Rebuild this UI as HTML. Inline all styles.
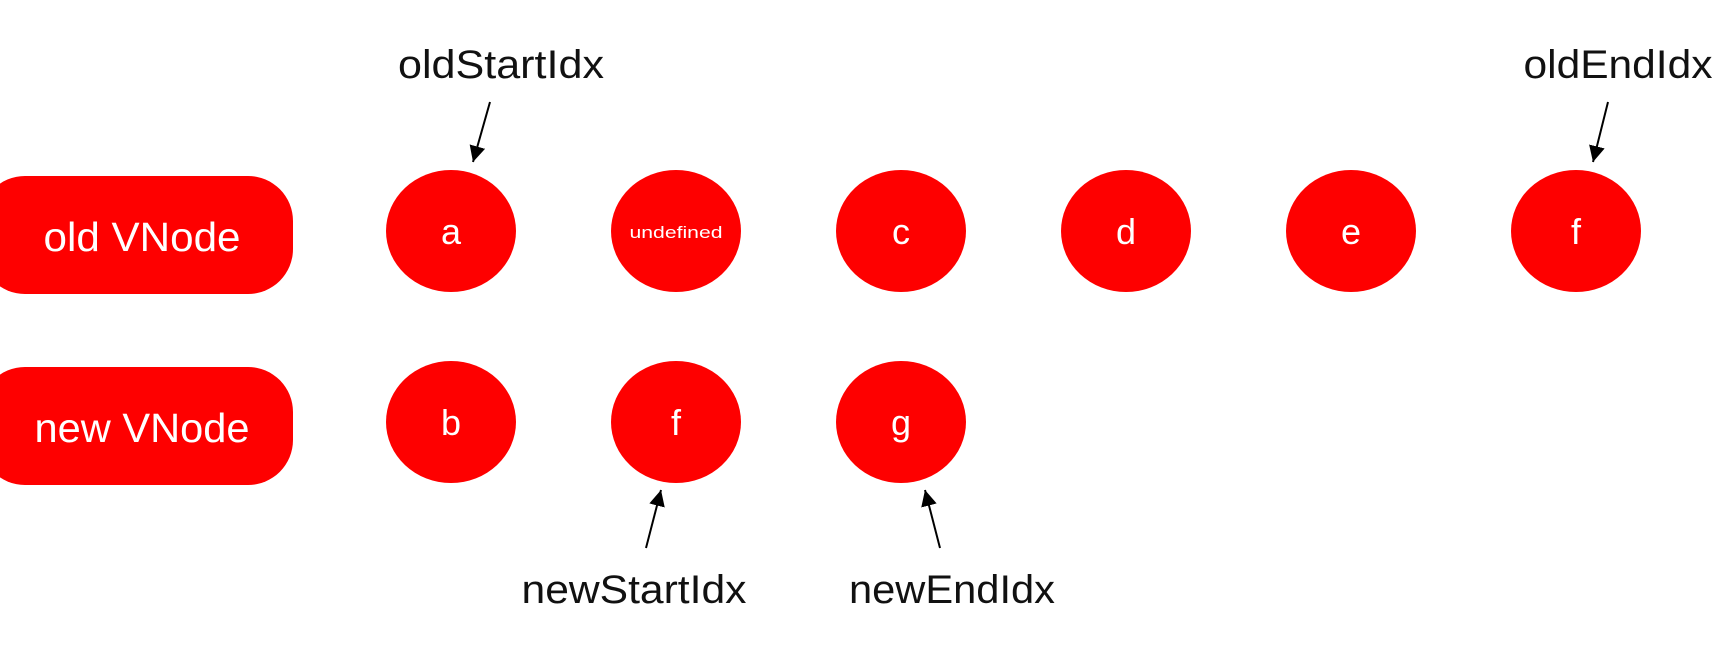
<!DOCTYPE html>
<html><head><meta charset="utf-8"><style>
html,body{margin:0;padding:0;background:#fff;}
svg{display:block;}
text{font-family:"Liberation Sans",Arial,sans-serif;}
</style></head><body>
<svg width="1720" height="646" viewBox="0 0 1720 646" xmlns="http://www.w3.org/2000/svg">
<defs>
<marker id="a2" viewBox="0 0 10 10" markerWidth="16" markerHeight="16" refX="10" refY="5" orient="auto" markerUnits="userSpaceOnUse"><path d="M0,0 L10,5 L0,10 z" fill="#000"/></marker></defs>
<rect x="-20" y="176" width="313" height="118" rx="45" ry="45" fill="#fe0000"/>
<rect x="-20" y="367" width="313" height="118" rx="45" ry="45" fill="#fe0000"/>
<text x="142" y="251" font-size="41" fill="#fff" text-anchor="middle" textLength="197" lengthAdjust="spacingAndGlyphs">old VNode</text>
<text x="142" y="442" font-size="41" fill="#fff" text-anchor="middle" textLength="215" lengthAdjust="spacingAndGlyphs">new VNode</text>
<g fill="#fe0000">
<ellipse cx="451" cy="231" rx="65" ry="61"/>
<ellipse cx="676" cy="231" rx="65" ry="61"/>
<ellipse cx="901" cy="231" rx="65" ry="61"/>
<ellipse cx="1126" cy="231" rx="65" ry="61"/>
<ellipse cx="1351" cy="231" rx="65" ry="61"/>
<ellipse cx="1576" cy="231" rx="65" ry="61"/>
<ellipse cx="451" cy="422" rx="65" ry="61"/>
<ellipse cx="676" cy="422" rx="65" ry="61"/>
<ellipse cx="901" cy="422" rx="65" ry="61"/>
</g>
<g fill="#fff" font-size="36" text-anchor="middle">
<text x="451" y="244">a</text>
<text x="676" y="238" font-size="17" textLength="93" lengthAdjust="spacingAndGlyphs">undefined</text>
<text x="901" y="244">c</text>
<text x="1126" y="244">d</text>
<text x="1351" y="244">e</text>
<text x="1576" y="244">f</text>
<text x="451" y="435">b</text>
<text x="676" y="435">f</text>
<text x="901" y="435">g</text>
</g>
<g font-size="40" fill="#111" text-anchor="middle">
<text x="501" y="78" textLength="206" lengthAdjust="spacingAndGlyphs">oldStartIdx</text>
<text x="1618" y="78" textLength="189" lengthAdjust="spacingAndGlyphs">oldEndIdx</text>
<text x="634" y="603" textLength="225" lengthAdjust="spacingAndGlyphs">newStartIdx</text>
<text x="952" y="603" textLength="206" lengthAdjust="spacingAndGlyphs">newEndIdx</text>
</g>
<g stroke="#000" stroke-width="2" marker-end="url(#a2)">
<line x1="490" y1="102" x2="473" y2="162"/>
<line x1="1608" y1="102" x2="1593" y2="162"/>
<line x1="646" y1="548" x2="661" y2="490"/>
<line x1="940" y1="548" x2="925" y2="490"/>
</g>
</svg>
</body></html>
